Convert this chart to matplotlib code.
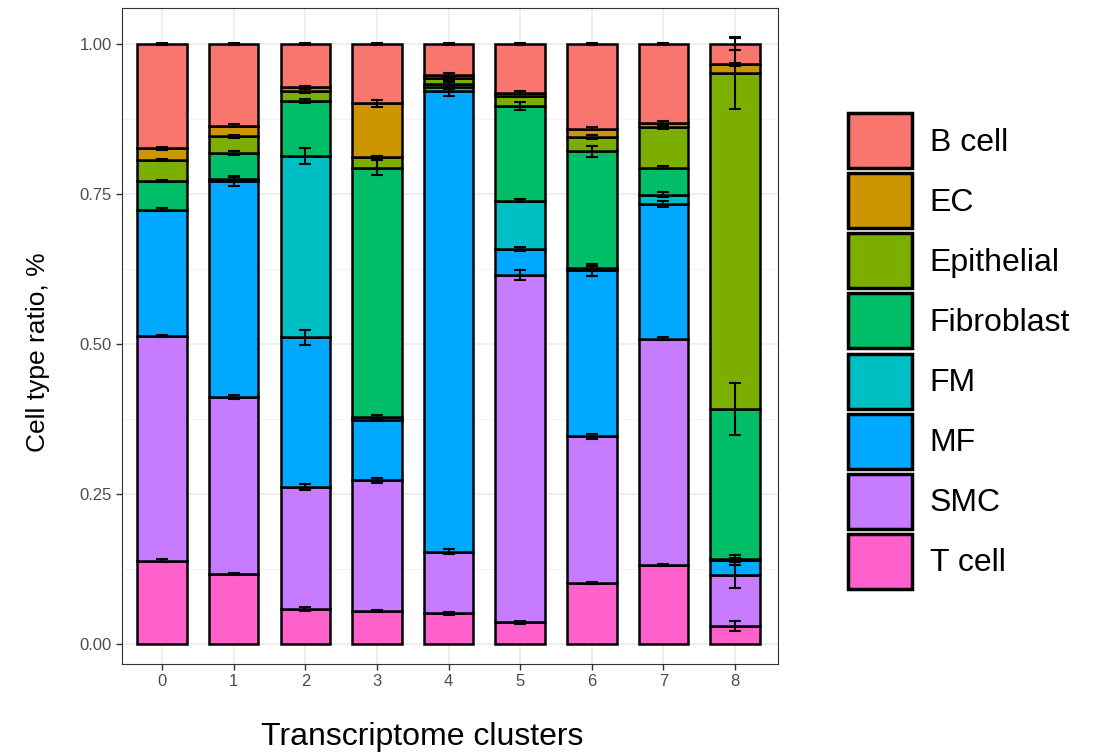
import matplotlib.pyplot as plt
from matplotlib.patches import Patch
import numpy as np

plt.rcParams['font.family'] = ['Liberation Sans', 'DejaVu Sans']

# clusters and cell types (stacked bottom -> top)
clusters = ['0', '1', '2', '3', '4', '5', '6', '7', '8']
cell_types = ['T cell', 'SMC', 'MF', 'FM', 'Fibroblast', 'Epithelial', 'EC', 'B cell']
type_colors = ['#FF61CC', '#C77CFF', '#00A9FF', '#00BFC4', '#00BE67', '#7CAE00', '#CD9600', '#F8766D']

# fraction of each cell type per cluster
t_cell     = [0.139, 0.117, 0.058, 0.055, 0.051, 0.036, 0.102, 0.132, 0.030]
smc        = [0.374, 0.295, 0.204, 0.218, 0.103, 0.579, 0.244, 0.377, 0.085]
mf         = [0.211, 0.360, 0.249, 0.101, 0.768, 0.043, 0.277, 0.225, 0.025]
fm         = [0.000, 0.003, 0.302, 0.004, 0.006, 0.081, 0.004, 0.015, 0.001]
fibroblast = [0.048, 0.043, 0.092, 0.416, 0.006, 0.158, 0.194, 0.045, 0.251]
epithelial = [0.035, 0.028, 0.017, 0.017, 0.009, 0.017, 0.024, 0.067, 0.559]
ec         = [0.019, 0.018, 0.006, 0.090, 0.005, 0.005, 0.014, 0.008, 0.015]
b_cell     = [0.174, 0.136, 0.072, 0.099, 0.052, 0.081, 0.141, 0.131, 0.034]

# error (sd) at the top of each segment
t_cell_err     = [0.002, 0.002, 0.003, 0.002, 0.003, 0.002, 0.002, 0.002, 0.008]
smc_err        = [0.002, 0.003, 0.005, 0.004, 0.004, 0.008, 0.004, 0.003, 0.021]
mf_err         = [0.003, 0.008, 0.012, 0.003, 0.008, 0.003, 0.010, 0.005, 0.008]
fm_err         = [0.002, 0.004, 0.013, 0.003, 0.003, 0.003, 0.003, 0.004, 0.003]
fibroblast_err = [0.002, 0.003, 0.003, 0.012, 0.003, 0.007, 0.009, 0.003, 0.043]
epithelial_err = [0.002, 0.002, 0.003, 0.003, 0.003, 0.003, 0.003, 0.003, 0.060]
ec_err         = [0.002, 0.002, 0.002, 0.006, 0.003, 0.003, 0.003, 0.003, 0.003]
b_cell_err     = [0.002, 0.002, 0.002, 0.002, 0.002, 0.002, 0.002, 0.002, 0.010]

values = [t_cell, smc, mf, fm, fibroblast, epithelial, ec, b_cell]
errors = [t_cell_err, smc_err, mf_err, fm_err, fibroblast_err, epithelial_err, ec_err, b_cell_err]

fig = plt.figure(figsize=(10.99, 7.55), dpi=100)
ax = fig.add_axes([122 / 1099, 1 - 664 / 755, 656 / 1099, 656 / 755])

x = np.arange(len(clusters))
bottom = np.zeros(len(clusters))
tops = []
for vals, col in zip(values, type_colors):
    vals = np.array(vals)
    ax.bar(x, vals, bottom=bottom, width=0.69, color=col, edgecolor='black',
           linewidth=1.8, zorder=2)
    bottom = bottom + vals
    tops.append(bottom.copy())

for top, err in zip(tops, errors):
    ax.errorbar(x, top, yerr=err, fmt='none', ecolor='black', elinewidth=1.5,
                capsize=4, capthick=1.5, zorder=3)

# ggplot theme_bw look
ax.set_xlim(-0.56, 8.6)
ax.set_ylim(-0.0333, 1.06)
ax.set_xticks(x)
ax.set_xticklabels(clusters)
ax.set_yticks([0, 0.25, 0.5, 0.75, 1.0])
ax.set_yticklabels(['0.00', '0.25', '0.50', '0.75', '1.00'])
ax.set_yticks([0.125, 0.375, 0.625, 0.875], minor=True)
ax.grid(which='major', color='#EBEBEB', linewidth=1.2, zorder=0)
ax.grid(which='minor', axis='y', color='#F2F2F2', linewidth=0.7, zorder=0)
ax.set_axisbelow(True)
for s in ax.spines.values():
    s.set_color('#333333')
    s.set_linewidth(0.8)
ax.tick_params(which='major', direction='out', length=4, width=1, color='#333333',
               labelcolor='#4D4D4D', labelsize=12)
ax.tick_params(which='minor', length=0)

fig.text(422 / 1099, 1 - 737 / 755, 'Transcriptome clusters', fontsize=23,
         ha='center', va='center')
fig.text(38 / 1099, 1 - 352 / 755, 'Cell type ratio, %', fontsize=19,
         ha='center', va='center', rotation=90)

handles = [Patch(facecolor=c, edgecolor='black', linewidth=2.5, label=l)
           for c, l in zip(type_colors[::-1], cell_types[::-1])]
fig.legend(handles=handles, loc='center left', bbox_to_anchor=(848 / 1099, 1 - 351 / 755),
           frameon=False, fontsize=23, handlelength=2.0, handleheight=2.27,
           labelspacing=0.16, handletextpad=0.56, borderpad=0, borderaxespad=0)

fig.savefig('out.png', dpi=100)
